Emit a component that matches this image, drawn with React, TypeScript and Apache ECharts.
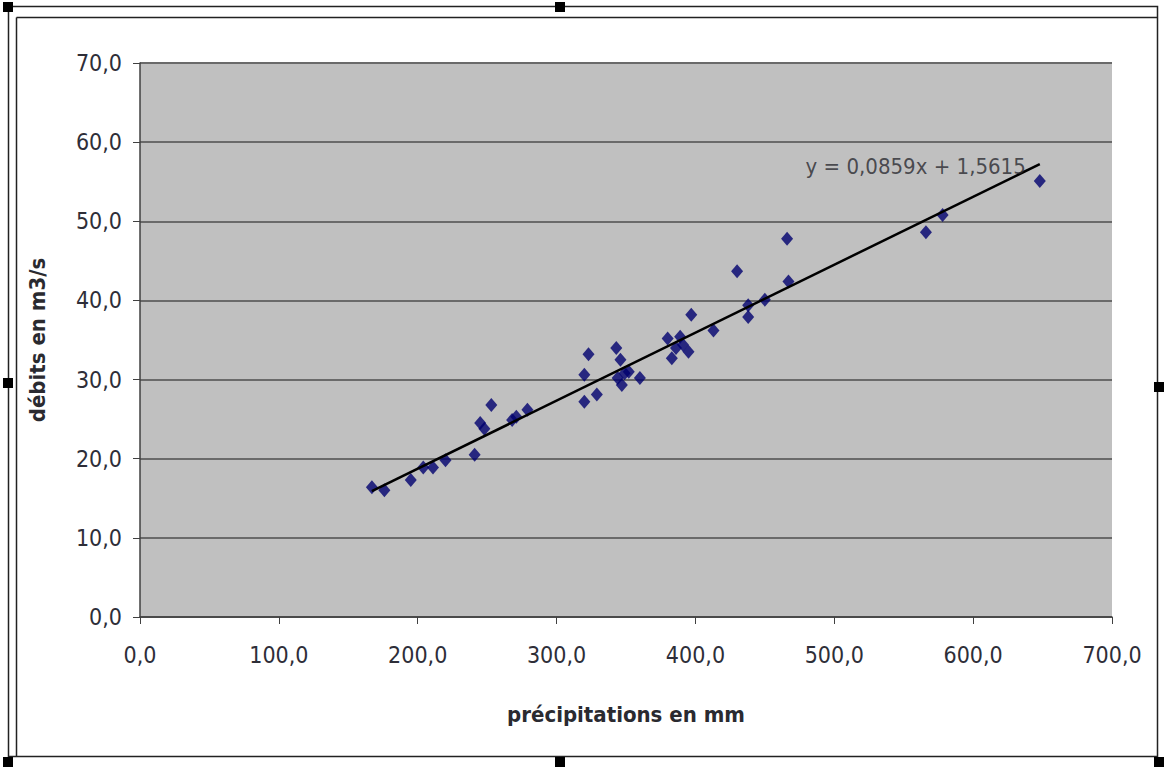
import React, { useEffect, useRef } from "react";
import * as echarts from "echarts";

const precipitations: number[] = [
  167, 176, 195, 204, 211, 220, 241, 245, 248, 253, 268, 271, 279,
  320, 320, 323, 329, 343, 344, 346, 347, 349, 352, 360,
  380, 383, 386, 389, 391, 395, 397, 413, 430, 438, 438, 450, 466, 467,
  566, 578, 648,
];
const debits: number[] = [
  16.4, 16.0, 17.3, 18.9, 18.9, 19.8, 20.5, 24.5, 23.8, 26.8, 24.9, 25.3, 26.2,
  30.6, 27.2, 33.2, 28.1, 34.0, 30.2, 32.5, 29.3, 30.8, 31.0, 30.2,
  35.2, 32.7, 34.0, 35.4, 34.4, 33.5, 38.2, 36.2, 43.7, 37.9, 39.4, 40.1, 47.8, 42.4,
  48.6, 50.8, 55.1,
];
const slope = 0.0859;
const intercept = 1.5615;
const equationLabel = "y = 0,0859x + 1,5615";
const xTitle = "précipitations en mm";
const yTitle = "débits en m3/s";

const fmt = (v: number) => v.toFixed(1).replace(".", ",");

export default function App() {
  const ref = useRef<HTMLDivElement>(null);
  useEffect(() => {
    if (!ref.current) return;
    const chart = echarts.init(ref.current, null, { renderer: "svg" });
    const pts = precipitations.map((x, i) => [x, debits[i]]);
    const xmin = Math.min(...precipitations);
    const xmax = Math.max(...precipitations);
    const trend = [
      [xmin, slope * xmin + intercept],
      [xmax, slope * xmax + intercept],
    ];
    const font = "'Liberation Sans Narrow', 'Arial Narrow', 'DejaVu Sans Condensed', sans-serif";
    const titleFont = "'DejaVu Sans Condensed', 'Liberation Sans', Arial, sans-serif";
    const handle = (x: number, y: number) => ({
      type: "rect",
      shape: { x, y, width: 10, height: 10 },
      style: { fill: "#000" },
      silent: true,
      z: 100,
    });
    chart.setOption({
      animation: false,
      backgroundColor: "#ffffff",
      grid: { left: 140, right: 52, top: 63, bottom: 150, containLabel: false, show: true, backgroundColor: "#c0c0c0", borderWidth: 0 },
      xAxis: {
        type: "value",
        min: 0,
        max: 700,
        interval: 100,
        name: xTitle,
        nameLocation: "middle",
        nameGap: 86,
        nameTextStyle: { fontFamily: titleFont, fontWeight: "bold", fontSize: 22, color: "#2a2a30" },
        axisLine: { show: true, lineStyle: { color: "#404040", width: 1.5 } },
        axisTick: { show: true, inside: false, length: 7, lineStyle: { color: "#404040" } },
        axisLabel: { formatter: (v: number) => fmt(v), fontFamily: font, fontSize: 23, color: "#2e2e38", margin: 26 },
        splitLine: { show: false },
      },
      yAxis: {
        type: "value",
        min: 0,
        max: 70,
        interval: 10,
        name: yTitle,
        nameLocation: "middle",
        nameGap: 92,
        nameRotate: 90,
        nameTextStyle: { fontFamily: titleFont, fontWeight: "bold", fontSize: 22, color: "#2a2a30" },
        axisLine: { show: true, lineStyle: { color: "#404040", width: 1.5 } },
        axisTick: { show: true, inside: false, length: 7, lineStyle: { color: "#404040" } },
        axisLabel: { formatter: (v: number) => fmt(v), fontFamily: font, fontSize: 23, color: "#2e2e38", margin: 18 },
        splitLine: { show: true, lineStyle: { color: "#6a6a6a", width: 2 } },
      },
      series: [
        {
          type: "scatter",
          data: pts,
          symbol: "diamond",
          symbolSize: [12, 14],
          itemStyle: { color: "#00006e" },
          z: 3,
        },
        {
          type: "line",
          data: trend,
          symbol: "none",
          lineStyle: { color: "#000", width: 2.5 },
          z: 4,
        },
        {
          type: "scatter",
          data: [trend[1]],
          symbolSize: 0,
          silent: true,
          label: {
            show: true,
            position: "left",
            distance: 14,
            offset: [0, 2],
            formatter: equationLabel,
            fontFamily: font,
            fontSize: 22,
            color: "#2a2a30",
          },
          z: 5,
        },
      ],
      graphic: [
        { type: "rect", shape: { x: 8.5, y: 6.5, width: 1149, height: 750 }, style: { fill: "none", stroke: "#222", lineWidth: 1.5 }, silent: true, z: 90 },
        { type: "line", shape: { x1: 16.5, y1: 17.5, x2: 1157, y2: 17.5 }, style: { stroke: "#222", lineWidth: 1.5 }, silent: true, z: 90 },
        { type: "line", shape: { x1: 16.5, y1: 17.5, x2: 16.5, y2: 756 }, style: { stroke: "#222", lineWidth: 1.5 }, silent: true, z: 90 },
        handle(3, 2),
        handle(555, 2),
        handle(3, 378),
        handle(1154, 382),
        handle(3, 757),
        handle(555, 757),
        handle(1154, 757),
      ],
    });
    return () => chart.dispose();
  }, []);
  return <div ref={ref} style={{ position: "fixed", left: 0, top: 0, width: 1164, height: 767 }} />;
}
